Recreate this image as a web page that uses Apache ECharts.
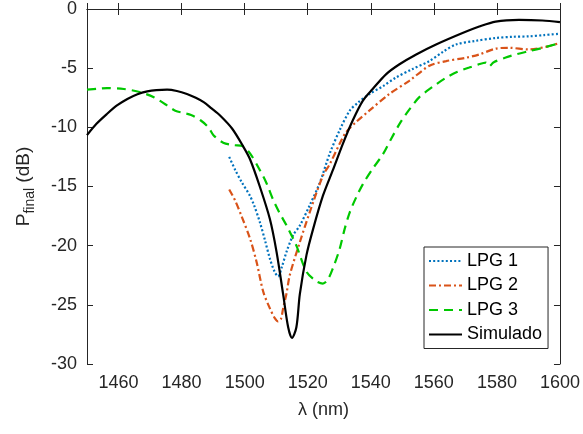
<!DOCTYPE html>
<html>
<head>
<meta charset="utf-8">
<script src="https://cdn.jsdelivr.net/npm/echarts@6/dist/echarts.min.js"></script>
<style>html,body{margin:0;padding:0;background:#fff;}#c{width:583px;height:434px;}</style>
</head>
<body>
<div id="c"></div>
<script>
// Wavelength (nm) / power (dB) per series
const lpg1X = [1495.1,1497,1499,1501.7,1503,1504.8,1506.5,1508,1509.5,1510.6,1511.8,1513.3,1515.4,1517.5,1520.6,1523.8,1527,1530.2,1533.3,1536,1539.6,1544,1548,1553,1558.6,1563,1567,1573,1579.6,1585,1590.2,1595,1600];
const lpg1Y = [-12.5,-13.6,-14.6,-15.8,-16.6,-18.0,-19.6,-21.1,-22.2,-22.6,-21.8,-20.5,-19.1,-18.3,-16.6,-14.7,-12.2,-10.2,-8.6,-7.9,-7.18,-6.5,-5.79,-5.1,-4.4,-3.6,-3.0,-2.7,-2.45,-2.35,-2.31,-2.2,-2.09];

const lpg2X = [1495.1,1497,1499,1501.7,1503.8,1505.9,1508,1509.5,1510.6,1511.5,1512.2,1513.3,1514.3,1517.5,1520.6,1524.8,1527,1530.2,1532.2,1535.4,1539.6,1545.9,1552.2,1558.6,1563.9,1570.2,1574.4,1579.6,1583.9,1590.2,1595.5,1600];
const lpg2Y = [-15.25,-16.2,-17.5,-19.4,-21.4,-23.9,-25.3,-26.1,-26.4,-26.2,-25.3,-24.0,-22.5,-19.7,-17.2,-14.1,-13.1,-11.35,-10.4,-9.54,-8.57,-7.18,-6.07,-4.8,-4.4,-4.12,-3.84,-3.35,-3.28,-3.42,-3.2,-2.87];

const lpg3X = [1450,1453.5,1456.4,1461.7,1467,1471.2,1475.4,1478,1480.7,1483,1486,1488.5,1490.1,1493.2,1496.5,1499.5,1501.7,1504.8,1506.9,1509,1511,1513.3,1516.4,1519.6,1522.7,1524.8,1526.3,1528,1530.1,1531.7,1533.3,1535.4,1537.5,1540.6,1543.8,1546.4,1549.6,1552.5,1555.4,1559.5,1563.9,1567.5,1571.2,1574,1576.5,1577.5,1579,1582.8,1586.5,1590.2,1595,1600];
const lpg3Y = [-6.82,-6.74,-6.68,-6.76,-7.04,-7.46,-8.15,-8.6,-8.79,-8.95,-9.4,-10.0,-10.66,-11.3,-11.5,-11.6,-12.2,-13.6,-14.7,-16.1,-17.2,-18.3,-20.0,-22.2,-23.0,-23.2,-22.9,-21.9,-20.3,-18.6,-17.2,-15.9,-14.8,-13.5,-12.3,-11.0,-9.5,-8.4,-7.45,-6.6,-5.8,-5.3,-4.95,-4.7,-4.53,-4.85,-4.5,-4.1,-3.8,-3.56,-3.25,-2.87];

const simX = [1450,1453,1456.4,1459.5,1462.8,1466,1469.1,1472,1475.4,1478.5,1481.7,1484.5,1487,1489.5,1492.2,1496,1499.5,1501.7,1504.8,1508,1510.1,1512.2,1513.8,1515,1516.4,1517.5,1519.6,1521.7,1524.8,1528,1531.2,1534.3,1537.5,1540.6,1544.9,1549.1,1554.4,1560.7,1569.1,1574.4,1579.6,1587,1594.4,1600];
const simY = [-10.66,-9.7,-8.85,-8.15,-7.6,-7.2,-6.96,-6.85,-6.82,-6.93,-7.18,-7.5,-7.87,-8.4,-9.0,-10.1,-11.6,-12.7,-15.0,-17.75,-20.5,-24.1,-26.9,-27.8,-26.9,-24.1,-20.8,-18.6,-15.8,-13.6,-11.35,-9.4,-7.74,-6.76,-5.5,-4.67,-3.84,-3.0,-2.03,-1.48,-1.06,-0.92,-0.97,-1.11];

const seriesNames = ['LPG 1','LPG 2','LPG 3','Simulado'];
const xRange = {min:1450, max:1600, splitNumber:8}; // nice step 20 -> ticks 1460..1600
const yRange = {min:-30, max:0, step:5};

const zip = (xs, ys) => xs.map((x, i) => [x, ys[i]]);
const FONT = "'Liberation Sans', Arial, Helvetica, sans-serif";
const AX = '#262626';

const chart = echarts.init(document.getElementById('c'), null, {renderer:'canvas'});
const tick = {show:true, inside:true, length:6, lineStyle:{color:AX, width:1}};
const line = {show:true, lineStyle:{color:AX, width:1}};
const xBase = {type:'value', min:xRange.min, max:xRange.max, splitNumber:xRange.splitNumber,
  splitLine:{show:false}, axisLine:line, axisTick:tick};
const yBase = {type:'value', min:yRange.min, max:yRange.max, interval:yRange.step,
  splitLine:{show:false}, axisLine:line, axisTick:tick};
chart.setOption({
  animation:false,
  backgroundColor:'#fff',
  grid:{left:87, right:22, top:4, bottom:70, containLabel:false},
  xAxis:[
    Object.assign({position:'bottom',
      name:'λ (nm)', nameLocation:'middle', nameGap:37,
      nameTextStyle:{fontFamily:FONT, fontSize:18, color:AX},
      axisLabel:{fontFamily:FONT, fontSize:18, color:AX, margin:10,
        formatter:v => (v % 20 === 0 ? String(v) : '')}}, xBase),
    Object.assign({position:'top', axisLabel:{show:false}}, xBase)
  ],
  yAxis:[
    Object.assign({position:'left',
      name:'{p|P}{s|final}{n| (dB)}', nameLocation:'middle', nameGap:50, nameRotate:90,
      nameTextStyle:{fontFamily:FONT, color:AX,
        rich:{
          p:{fontFamily:FONT, fontSize:19, color:AX, lineHeight:26, verticalAlign:'middle'},
          s:{fontFamily:FONT, fontSize:14, color:AX, lineHeight:26, verticalAlign:'bottom'},
          n:{fontFamily:FONT, fontSize:19, color:AX, lineHeight:26, verticalAlign:'middle'}
        }},
      axisLabel:{fontFamily:FONT, fontSize:18, color:AX, margin:10}}, yBase),
    Object.assign({position:'right', axisLabel:{show:false}}, yBase)
  ],
  legend:{
    show:true, orient:'vertical', left:424, top:247,
    backgroundColor:'#fff', borderColor:'#262626', borderWidth:1,
    padding:[5,6,5,4], itemGap:6.5, itemWidth:33, itemHeight:12,
    itemStyle:{opacity:0},
    textStyle:{fontFamily:FONT, fontSize:18, color:'#000'},
    data:seriesNames
  },
  series:[
    {name:seriesNames[0], type:'line', data:zip(lpg1X, lpg1Y), showSymbol:false, symbol:'none', smooth:0.3,
      lineStyle:{color:'#0072BD', width:2.2, type:[2,2.2]}, itemStyle:{color:'#0072BD'}, z:3},
    {name:seriesNames[1], type:'line', data:zip(lpg2X, lpg2Y), showSymbol:false, symbol:'none', smooth:0.3,
      lineStyle:{color:'#D95319', width:2.2, type:[7,3,2,3]}, itemStyle:{color:'#D95319'}, z:3},
    {name:seriesNames[2], type:'line', data:zip(lpg3X, lpg3Y), showSymbol:false, symbol:'none', smooth:0.3,
      lineStyle:{color:'#00C800', width:2.2, type:[9,6]}, itemStyle:{color:'#00C800'}, z:3},
    {name:seriesNames[3], type:'line', data:zip(simX, simY), showSymbol:false, symbol:'none', smooth:0.3,
      lineStyle:{color:'#000', width:2.2, type:'solid'}, itemStyle:{color:'#000'}, z:4}
  ]
});
</script>
</body>
</html>
